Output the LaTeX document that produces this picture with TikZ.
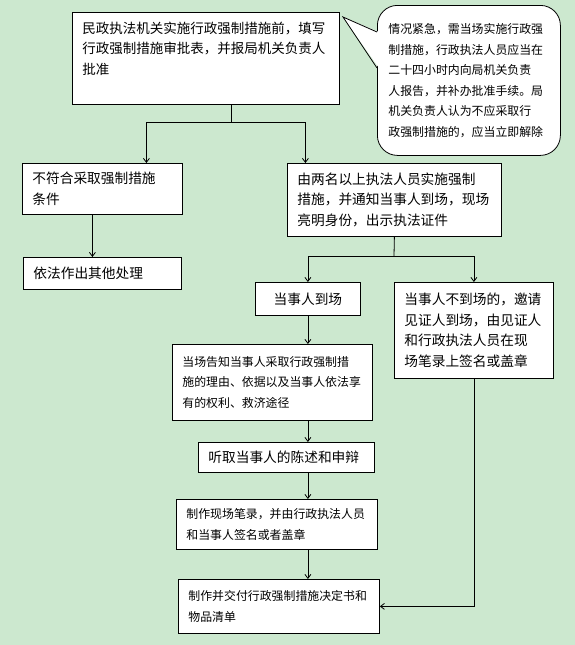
\documentclass[tikz,border=0pt]{standalone}
\usepackage{fontspec}
\newfontfamily\cjk{Noto Sans CJK SC}
\usepackage{tikz}
\usetikzlibrary{positioning,arrows.meta}
\definecolor{paper}{RGB}{204,232,207}

\begin{document}
\begin{tikzpicture}[
        x=1pt, y=-1pt,
        >={Straight Barb[length=4pt,width=6pt]},
        line width=0.8pt,
        font=\cjk\fontsize{13.7}{20.5}\selectfont,
        block/.style={draw, fill=white, anchor=north west, align=left, inner xsep=10pt, inner ysep=0pt},
        small/.style={font=\cjk\fontsize{11.9}{20.5}\selectfont},
        note/.style={block, small, rounded corners=20pt, inner xsep=11pt}
    ]
      \fill[paper] (0,0) rectangle (575,645);
      \useasboundingbox (0,0) rectangle (575,645);

      \node[block, font=\cjk\fontsize{13.5}{20.5}\selectfont, text width=247pt, minimum height=92pt] (apply) at (72,12)
        {民政执法机关实施行政强制措施前，填写\\行政强制措施审批表，并报局机关负责人\\批准\\\mbox{}};
      \node[note, text width=161pt, minimum height=150pt] (urgent) at (377,5)
        {情况紧急，需当场实施行政强\\制措施，行政执法人员应当在\\二十四小时内向局机关负责\\人报告，并补办批准手续。局\\机关负责人认为不应采取行\\政强制措施的，应当立即解除};
      \coordinate (tip) at (343,17);
      \fill[white] ([shift={(2pt,-27pt)}]urgent.north west) -- (tip) -- ([shift={(2pt,-63pt)}]urgent.north west) -- cycle;
      \draw ([yshift=-27pt]urgent.north west) -- (tip) -- ([yshift=-63pt]urgent.north west);

      \node[block, text width=140pt, minimum height=51pt] (unfit) at (22,163) {不符合采取强制措施\\条件};
      \node[block, text width=138pt, minimum height=32pt] (other) at (23,257) {依法作出其他处理};
      \node[block, text width=194pt, minimum height=73pt] (enforce) at (287,163)
        {由两名以上执法人员实施强制\\措施，并通知当事人到场，现场\\亮明身份，出示执法证件};

      \node[block, align=center, minimum width=105pt, minimum height=33pt] (arrive) at (255,282) {当事人到场};
      \node[block, text width=139pt, minimum height=96pt] (absent) at (394,282)
        {当事人不到场的，邀请\\见证人到场，由见证人\\和行政执法人员在现\\场笔录上签名或盖章};
      \node[block, small, text width=180pt, minimum height=76pt] (inform) at (172,344)
        {当场告知当事人采取行政强制措\\施的理由、依据以及当事人依法享\\有的权利、救济途径};
      \node[block, text width=156pt, minimum height=30pt] (hear) at (198,442) {听取当事人的陈述和申辩};
      \node[block, small, text width=181pt, minimum height=50pt] (record) at (176,499)
        {制作现场笔录，并由行政执法人员\\和当事人签名或者盖章};
      \node[block, small, text width=181pt, minimum height=54pt] (decide) at (178,579)
        {制作并交付行政强制措施决定书和\\物品清单};

      \coordinate (j1) at (231,122);
      \coordinate (j2) at (394,256);

      \draw (apply.south -| j1) -- (j1);
      \draw[->] (j1) -| ([xshift=44pt]unfit.north);
      \draw[->] (j1) -| ([xshift=-89pt]enforce.north);
      \draw[->] ([xshift=-10pt]unfit.south) -- ([xshift=-10pt]other.north);

      \draw (enforce.south) -- (j2);
      \draw[->] (j2) -| (arrive.north);
      \draw[->] (j2) -| (absent.north);

      \draw[->] (arrive.south) -- (arrive.south |- inform.north);
      \draw[->] (inform.south -| arrive) -- (hear.north -| arrive);
      \draw[->] (hear.south -| arrive) -- (record.north -| arrive);
      \draw[->] (record.south -| arrive) -- (decide.north -| arrive);
      \draw[->] (absent.south) |- (decide.east);
    \end{tikzpicture}
\end{document}
